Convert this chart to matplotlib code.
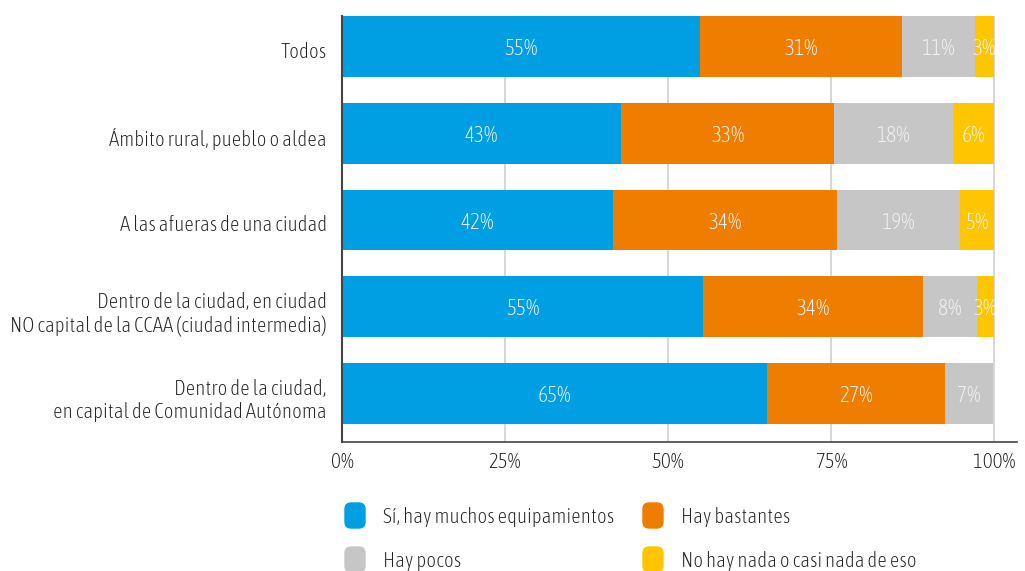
import matplotlib
matplotlib.use("Agg")
import matplotlib.pyplot as plt
import numpy as np
from matplotlib.patches import FancyBboxPatch
from matplotlib import font_manager

names = sorted({f.name for f in font_manager.fontManager.ttflist})
narrow = [n for n in names if "Condensed" in n] + [n for n in names if "Narrow" in n]
family = narrow[:1] + ["Roboto", "DejaVu Sans"]
plt.rcParams["font.family"] = family
plt.rcParams["font.weight"] = "light"

categories = [
    "Todos",
    "Ámbito rural, pueblo o aldea",
    "A las afueras de una ciudad",
    "Dentro de la ciudad, en ciudad\nNO capital de la CCAA (ciudad intermedia)",
    "Dentro de la ciudad,\nen capital de Comunidad Autónoma",
]
series = [
    "Sí, hay muchos equipamientos",
    "Hay bastantes",
    "Hay pocos",
    "No hay nada o casi nada de eso",
]
muchos = [54.9, 42.8, 41.6, 55.4, 65.2]
bastantes = [31.0, 32.7, 34.3, 33.7, 27.3]
pocos = [11.2, 18.2, 18.9, 8.3, 7.4]
nada = [2.9, 6.3, 5.2, 2.6, 0.0]
colors = ["#009FE3", "#EF7D00", "#C6C6C6", "#FFC600"]
xticks = [0, 25, 50, 75, 100]

values = np.array([muchos, bastantes, pocos, nada])

fig = plt.figure(figsize=(10.25, 5.71), dpi=100)
ax = fig.add_axes([342 / 1025, 1 - 442 / 571, (1017 - 342) / 1025, (442 - 16) / 571])

y = np.arange(len(categories))
left = np.zeros(len(categories))
for vals, col in zip(values, colors):
    ax.barh(y, vals, left=left, height=0.70, color=col, zorder=2)
    for yi, (l, v) in enumerate(zip(left, vals)):
        if v > 0.5:
            ax.text(l + v / 2, yi + 0.03, f"{v:.0f}%", ha="center", va="center",
                    color="#f2f2f2", fontsize=15.5, zorder=3)
    left += vals

ax.set_xlim(0, (1017 - 342) / 652 * 100)
ax.set_ylim(4 + 0.35 + 18 / 86.7, -0.35)
ax.set_yticks(y + 0.04)
ax.set_yticklabels(categories, fontsize=15, color="#222222")
ax.set_xticks(xticks)
ax.set_xticklabels([f"{t}%" for t in xticks], fontsize=15, color="#222222")
ax.tick_params(axis="x", length=0, pad=7)
ax.tick_params(axis="y", length=0, pad=11)
for t in xticks[1:]:
    ax.axvline(t, color="#d0d0d0", lw=1.2, zorder=1)
for s in ["top", "right"]:
    ax.spines[s].set_visible(False)
ax.spines["left"].set_color("#444444")
ax.spines["left"].set_linewidth(1.5)
ax.spines["bottom"].set_color("#444444")
ax.spines["bottom"].set_linewidth(1.2)

# legend
lx = [345, 643]
ly = [503, 547]
for i, (lab, col) in enumerate(zip(series, colors)):
    cx = lx[i % 2]
    cy = ly[i // 2]
    box = FancyBboxPatch((cx / 1025, 1 - (cy + 25) / 571), 20 / 1025, 25 / 571,
                         boxstyle="round,pad=0,rounding_size=0.006",
                         transform=fig.transFigure, color=col, mutation_aspect=1.8)
    fig.patches.append(box)
    fig.text((cx + 38) / 1025, 1 - (cy + 14) / 571, lab, fontsize=15,
             color="#222222", va="center", ha="left")

fig.savefig("out.png", dpi=100)
